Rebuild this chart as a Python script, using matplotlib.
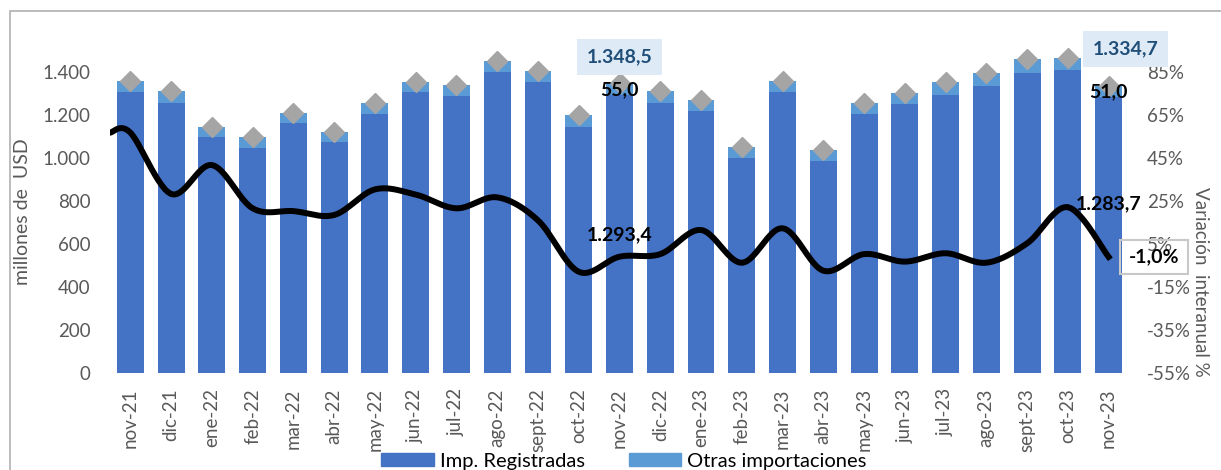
import numpy as np
import matplotlib
matplotlib.use('Agg')
import matplotlib.pyplot as plt
from matplotlib.patches import Rectangle, Patch
from matplotlib.ticker import FuncFormatter

plt.rcParams['font.family'] = ['Lato', 'DejaVu Sans']

# datos
meses = ['nov-21', 'dic-21', 'ene-22', 'feb-22', 'mar-22', 'abr-22', 'may-22', 'jun-22',
         'jul-22', 'ago-22', 'sept-22', 'oct-22', 'nov-22', 'dic-22', 'ene-23', 'feb-23',
         'mar-23', 'abr-23', 'may-23', 'jun-23', 'jul-23', 'ago-23', 'sept-23', 'oct-23', 'nov-23']
registradas = [1308, 1257, 1098, 1048, 1163, 1076, 1205, 1307, 1288, 1400, 1353, 1146, 1293.4,
               1257, 1220, 1001, 1308, 987, 1206, 1251, 1294, 1336, 1397, 1411, 1283.7]
otras = [52, 53, 46, 50, 45, 45, 49, 46, 53, 50, 52, 52, 55.0,
         56, 51, 49, 49, 49, 50, 51, 58, 59, 65, 53, 51.0]
variacion = [56.8, 28.3, 41.7, 21.6, 20.3, 18.5, 30.4, 28.0, 21.6, 26.7, 16.0, -7.9, -0.9,
             0.3, 11.5, -3.7, 12.3, -7.4, 0.3, -3.2, 0.7, -3.7, 5.3, 22.1, -1.0]
# etiquetas publicadas (total, registradas, otras, variacion)
etiq_nov22 = ['1.348,5', '1.293,4', '55,0']
etiq_nov23 = ['1.334,7', '1.283,7', '51,0', '-1,0%']

AZUL = '#4472C4'
CELESTE = '#5B9BD5'
GRIS_TXT = '#595959'


def suavizar(x, y, n=30):
    # curva tipo "linea suavizada" de Excel (Catmull-Rom)
    p = np.column_stack([x, y]).astype(float)
    xs, ys = [], []
    for i in range(len(p) - 1):
        p0 = p[max(i - 1, 0)]
        p1 = p[i]
        p2 = p[i + 1]
        p3 = p[min(i + 2, len(p) - 1)]
        t = np.linspace(0, 1, n)[:, None]
        c = 0.5 * ((2 * p1) + (-p0 + p2) * t + (2 * p0 - 5 * p1 + 4 * p2 - p3) * t ** 2
                   + (-p0 + 3 * p1 - 3 * p2 + p3) * t ** 3)
        xs.extend(c[:, 0])
        ys.extend(c[:, 1])
    return xs, ys


x = np.arange(len(meses))
total = np.array(registradas) + np.array(otras)

fig = plt.figure(figsize=(12.21, 4.70), dpi=100)
ax = fig.add_axes([110 / 1221, 97 / 470, 1019 / 1221, 322.5 / 470])

ax.bar(x, registradas, width=0.66, color=AZUL, label='Imp. Registradas')
ax.bar(x, otras, width=0.66, bottom=registradas, color=CELESTE, label='Otras importaciones')
ax.plot(x, total, linestyle='none', marker='D', markersize=10, color='#A5A5A5', clip_on=False)

ax.set_xlim(-0.5, len(meses) - 0.5)
ax.set_ylim(0, 1500)
ax.set_yticks(np.arange(0, 1401, 200))
ax.yaxis.set_major_formatter(FuncFormatter(lambda v, p: f'{int(v):,}'.replace(',', '.')))
ax.set_xticks(x)
ax.set_xticklabels(meses, rotation=90)
ax.tick_params(axis='both', length=0, labelsize=13.5, labelcolor=GRIS_TXT)
ax.tick_params(axis='x', pad=11)
ax.tick_params(axis='y', pad=14)
ax.set_ylabel('millones de  USD', fontsize=14, color=GRIS_TXT)
ax.yaxis.set_label_coords(-0.078, 0.5)
for s in ax.spines.values():
    s.set_visible(False)

ax2 = ax.twinx()
# la linea arranca desde el borde izquierdo del area de grafico
lx, ly = suavizar(np.r_[-0.5, x], np.r_[variacion[0], variacion])
ax2.plot(lx, ly, color='black', linewidth=4.3)
ax2.set_ylim(-55, 95)
ax2.set_yticks(np.arange(-55, 86, 20))
ax2.yaxis.set_major_formatter(FuncFormatter(lambda v, p: f'{int(v)}%'))
ax2.tick_params(axis='y', length=0, labelsize=13.5, labelcolor=GRIS_TXT, pad=13)
ax2.set_ylabel('Variación  interanual %', fontsize=13.5, color=GRIS_TXT, rotation=270)
ax2.yaxis.set_label_coords(1.0785, 0.282)
for s in ax2.spines.values():
    s.set_visible(False)


def en_ax2(v):
    # valor del eje izquierdo expresado en el eje derecho
    return v * 150 / 1500 - 55


caja_azul = dict(boxstyle='square,pad=0.5', facecolor='#DEEAF6', edgecolor='none')
kw = dict(textcoords='offset points', ha='center', va='center', fontsize=14, fontweight='bold')

i1, i2 = 12, 24
ax2.annotate(etiq_nov22[0], xy=(i1, en_ax2(total[i1])), xytext=(0, 18.7), color='#1F4E79',
             bbox=caja_azul, **kw)
ax2.annotate(etiq_nov22[2], xy=(i1, en_ax2(total[i1])), xytext=(0, -4.6), color='black', **kw)
ax2.annotate(etiq_nov22[1], xy=(i1, variacion[i1]), xytext=(0, 15.6), color='black', **kw)
ax2.annotate(etiq_nov23[0], xy=(i2, en_ax2(total[i2])), xytext=(12.2, 26.6), color='#1F4E79',
             bbox=caja_azul, annotation_clip=False, **kw)
ax2.annotate(etiq_nov23[2], xy=(i2, en_ax2(total[i2])), xytext=(0, -4), color='black', **kw)
ax2.annotate(etiq_nov23[1], xy=(i2, variacion[i2]), xytext=(0, 38.5), color='black', **kw)
ax2.annotate(etiq_nov23[3], xy=(i2, variacion[i2]), xytext=(33, 0), color='black',
             annotation_clip=False,
             bbox=dict(boxstyle='square,pad=0.45', facecolor='none', edgecolor='#C8C8C8', linewidth=1.5),
             **kw)

handles = [Patch(color=AZUL, label='Imp. Registradas'), Patch(color=CELESTE, label='Otras importaciones')]
fig.legend(handles=handles, loc='center', bbox_to_anchor=(624 / 1221, 1 - 461 / 470), ncol=2,
           frameon=False, fontsize=14.5, handlelength=2.6, handleheight=0.6, handletextpad=0.3,
           columnspacing=2.2, borderpad=0)

fig.patches.append(Rectangle((9.5 / 1221, -0.1), 1.2, 1.1 - 11 / 470, transform=fig.transFigure,
                             fill=False, edgecolor='#B0B0B0', linewidth=1.2))

plt.savefig('out.png', dpi=100)
